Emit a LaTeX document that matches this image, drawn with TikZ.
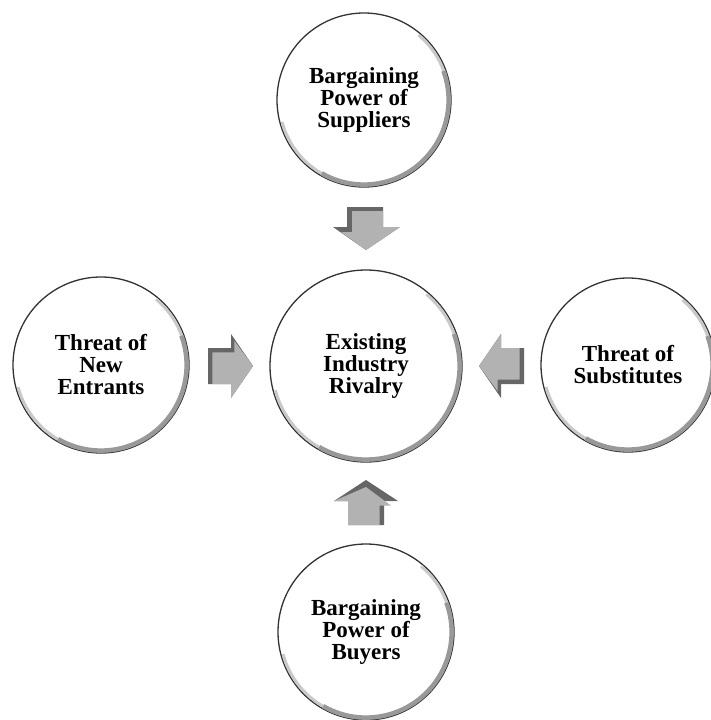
\documentclass[tikz,border=0pt]{standalone}
\usepackage{fontspec}
\setmainfont{Liberation Serif}
\newlength{\du}
\setlength{\du}{20pt}
\definecolor{ringline}{rgb}{0.200000, 0.200000, 0.200000}
\definecolor{bevelgray}{rgb}{0.600000, 0.600000, 0.600000}
\definecolor{bevellight}{rgb}{0.790000, 0.790000, 0.790000}
\definecolor{blockdark}{rgb}{0.400000, 0.400000, 0.400000}
\definecolor{blockface}{rgb}{0.700000, 0.700000, 0.700000}
\tikzset{
  force/.style={circle, draw=ringline, fill=white, line width=1.3pt, inner sep=0pt,
    align=center, font=\bfseries\fontsize{23pt}{22pt}\selectfont},
  bevel/.style={draw=bevelgray, line width=4.5pt},
  bevelsoft/.style={draw=bevellight, line width=3pt},
  blockback/.style={fill=blockdark},
  blockfront/.style={fill=blockface}
}

\begin{document}
\begin{tikzpicture}
\pgftransformxscale{1.000000}
\pgftransformyscale{-1.000000}
\useasboundingbox (0.000000\du,0.000000\du) rectangle (35.550000\du,36.000000\du);
% circles
\node[force, minimum size=8.700000\du] (sup) at (18.200000\du,5.000000\du){Bargaining\\Power of\\Suppliers};
\draw[bevelsoft] (sup.center) ++(-50:4.240000\du) arc[start angle=-50, end angle=165, radius=4.240000\du];
\draw[bevel] (sup.center) ++(-20:4.230000\du) arc[start angle=-20, end angle=120, radius=4.230000\du];
\node[force, minimum size=8.800000\du] (ent) at (5.050000\du,18.250000\du){Threat of\\New\\Entrants};
\draw[bevelsoft] (ent.center) ++(-50:4.290000\du) arc[start angle=-50, end angle=165, radius=4.290000\du];
\draw[bevel] (ent.center) ++(-20:4.280000\du) arc[start angle=-20, end angle=120, radius=4.280000\du];
\node[force, minimum size=9.600000\du] (riv) at (18.300000\du,18.300000\du){Existing\\Industry\\Rivalry};
\draw[bevelsoft] (riv.center) ++(-50:4.690000\du) arc[start angle=-50, end angle=165, radius=4.690000\du];
\draw[bevel] (riv.center) ++(-20:4.680000\du) arc[start angle=-20, end angle=120, radius=4.680000\du];
\node[force, minimum size=8.700000\du] (sub) at (31.400000\du,18.250000\du){Threat of\\Substitutes};
\draw[bevelsoft] (sub.center) ++(-50:4.240000\du) arc[start angle=-50, end angle=165, radius=4.240000\du];
\draw[bevel] (sub.center) ++(-20:4.230000\du) arc[start angle=-20, end angle=120, radius=4.230000\du];
\node[force, minimum size=8.800000\du] (buy) at (18.300000\du,31.600000\du){Bargaining\\Power of\\Buyers};
\draw[bevelsoft] (buy.center) ++(-50:4.290000\du) arc[start angle=-50, end angle=165, radius=4.290000\du];
\draw[bevel] (buy.center) ++(-20:4.280000\du) arc[start angle=-20, end angle=120, radius=4.280000\du];
% block arrows
\fill[blockback] (17.350000\du,10.350000\du)--(19.150000\du,10.350000\du)--(19.150000\du,11.350000\du)--(20.000000\du,11.350000\du)--(18.300000\du,12.500000\du)--(16.650000\du,11.350000\du)--(17.350000\du,11.350000\du)--cycle;
\fill[blockfront] (17.600000\du,10.550000\du)--(19.150000\du,10.550000\du)--(19.150000\du,11.350000\du)--(20.000000\du,11.350000\du)--(18.300000\du,12.500000\du)--(17.050000\du,11.600000\du)--(17.600000\du,11.600000\du)--cycle;
\fill[blockback] (10.400000\du,17.400000\du)--(11.550000\du,17.400000\du)--(11.550000\du,16.700000\du)--(12.650000\du,18.300000\du)--(11.550000\du,19.900000\du)--(11.550000\du,19.200000\du)--(10.400000\du,19.200000\du)--cycle;
\fill[blockfront] (10.620000\du,17.620000\du)--(11.720000\du,17.620000\du)--(11.720000\du,17.050000\du)--(12.650000\du,18.300000\du)--(11.550000\du,19.900000\du)--(11.550000\du,19.200000\du)--(10.620000\du,19.200000\du)--cycle;
\fill[blockback] (26.200000\du,19.200000\du)--(25.050000\du,19.200000\du)--(25.050000\du,19.900000\du)--(23.950000\du,18.300000\du)--(25.050000\du,16.700000\du)--(25.050000\du,17.400000\du)--(26.200000\du,17.400000\du)--cycle;
\fill[blockfront] (25.980000\du,18.980000\du)--(24.880000\du,18.980000\du)--(24.880000\du,19.550000\du)--(23.950000\du,18.300000\du)--(25.050000\du,16.700000\du)--(25.050000\du,17.400000\du)--(25.980000\du,17.400000\du)--cycle;
\fill[blockback] (17.400000\du,26.250000\du)--(19.200000\du,26.250000\du)--(19.200000\du,25.050000\du)--(19.900000\du,25.050000\du)--(18.300000\du,24.000000\du)--(16.700000\du,25.050000\du)--(17.400000\du,25.050000\du)--cycle;
\fill[blockfront] (17.400000\du,26.250000\du)--(18.980000\du,26.250000\du)--(18.980000\du,25.280000\du)--(19.550000\du,25.280000\du)--(18.300000\du,24.350000\du)--(16.700000\du,25.050000\du)--(17.400000\du,25.050000\du)--cycle;
\end{tikzpicture}
\end{document}
